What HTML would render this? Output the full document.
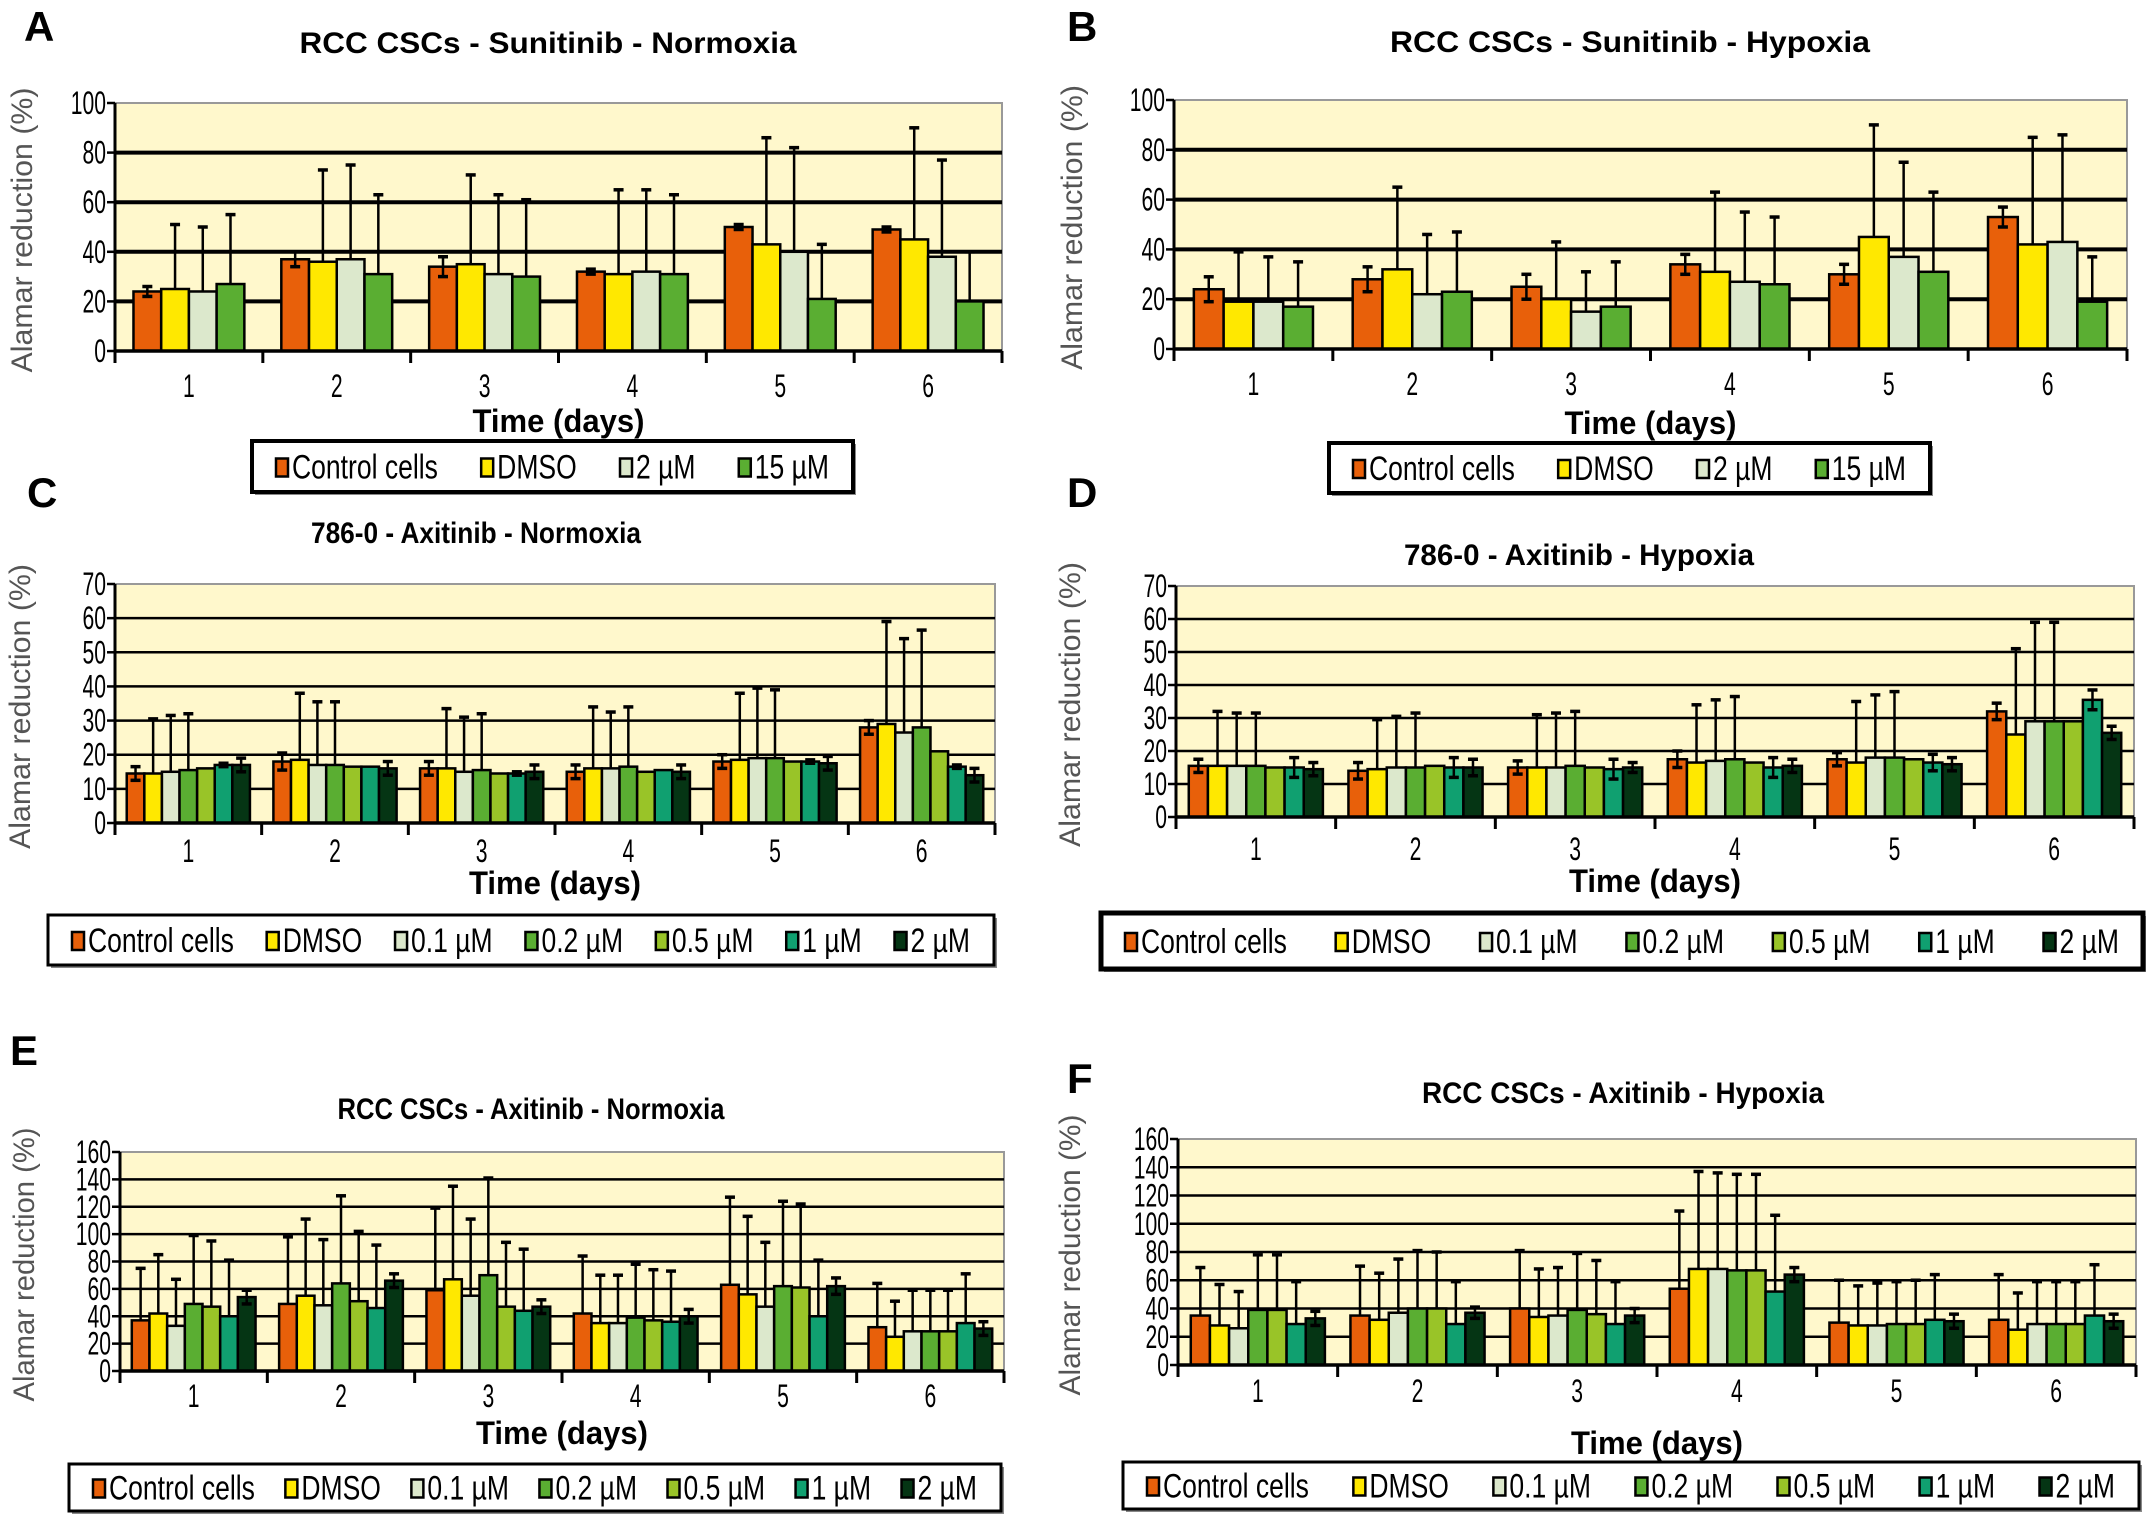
<!DOCTYPE html>
<html><head><meta charset="utf-8"><style>
html,body{margin:0;padding:0;background:#fff;}
svg{display:block;font-family:"Liberation Sans",Arial,sans-serif;}
</style></head><body>
<svg id="fig" width="2150" height="1521" viewBox="0 0 2150 1521" xmlns="http://www.w3.org/2000/svg"></svg>
<script>
const days = ["1","2","3","4","5","6"];
const legend4 = ["Control cells","DMSO","2 µM","15 µM"];
const legend7 = ["Control cells","DMSO","0.1 µM","0.2 µM","0.5 µM","1 µM","2 µM"];
const ticksA = [0,20,40,60,80,100];
const ticksC = [0,10,20,30,40,50,60,70];
const ticksE = [0,20,40,60,80,100,120,140,160];

const aValues = [[24,37,34,32,50,49],[25,36,35,31,43,45],[24,37,31,32,40,38],[27,31,30,31,21,20]];
const aErrors = [[2,3,4,1,1,1],[26,37,36,34,43,45],[26,38,32,33,42,39],[28,32,31,32,22,20]];
const bValues = [[24,28,25,34,30,53],[19,32,20,31,45,42],[19,22,15,27,37,43],[17,23,17,26,31,19]];
const bErrors = [[5,5,5,4,4,4],[20,33,23,32,45,43],[18,24,16,28,38,43],[18,24,18,27,32,18]];
const cValues = [[14.5,18,16,15,18,28],[14.5,18.5,16,16,18.5,29],[15,17,15,16,19,26.5],[15.5,17,15.5,16.5,19,28],[16,16.5,14.5,15,18,21],[17,16.5,14.5,15.5,18,16.5],[17,16,15,15,17.5,14]];
const cErrors = [[2,2.5,2,2,2,2],[16,19.5,17.5,18,19.5,30],[16.5,18.5,16,16.5,20.5,27.5],[16.5,18.5,16.5,17.5,20,28.5],[0,0,0,0,0,0],[0.5,0,0.5,0,0.5,0.5],[2,2,2,2,2,2]];
const dValues = [[15.5,14,15,17.5,17.5,32],[15.5,14.5,15,16.5,16.5,25],[15.5,15,15,17,18,29],[15.5,15,15.5,17.5,18,29],[15,15.5,15,16.5,17.5,29],[15,15,14.5,15,16.5,35.5],[14.5,15,15,15.5,16,25.5]];
const dErrors = [[2,2.5,2,2.5,2,2.5],[16.5,15,16,17.5,18.5,26],[16,15.5,16.5,18.5,19,30],[16,16.5,16.5,19,20,30],[0,0,0,0,0,0],[3,3,3,3,2.5,3],[2,2.5,1.5,2,2,2]];
const eValues = [[37,49,59,42,63,32],[42,55,67,35,56,25],[33,48,55,35,47,29],[49,64,70,39,62,29],[47,51,47,37,61,29],[40,46,44,36,40,35],[54,66,47,40,62,31]];
const eErrors = [[38,49,60,42,64,32],[43,56,68,35,57,26],[34,48,56,35,47,30],[50,64,71,39,62,30],[48,51,47,37,61,30],[41,46,45,37,41,36],[5,5,5,5,6,5]];
const fValues = [[35,35,40,54,30,32],[28,32,34,68,28,25],[26,37,35,68,28,29],[39,40,39,67,29,29],[39,40,36,67,29,29],[29,29,29,52,32,35],[33,37,35,64,31,31]];
const fErrors = [[34,35,41,55,30,32],[29,33,34,69,28,26],[26,38,34,68,30,30],[39,41,40,68,30,30],[39,40,38,68,31,30],[30,30,30,54,32,36],[5,4,5,5,5,5]];

const col4 = ["#E8600A","#FFE800","#DCE8CC","#5AAE32"];
const col7 = ["#E8600A","#FFE800","#DCE8CC","#5AAE32","#99C428","#10A070","#053514"];

const NS = "http://www.w3.org/2000/svg";
const svg = document.getElementById('fig');
function mk(tag, attrs, parent){
  const e = document.createElementNS(NS, tag);
  for (const k in attrs) e.setAttribute(k, attrs[k]);
  (parent||svg).appendChild(e);
  return e;
}
function txt(parent, x, y, s, size, opts){
  opts = opts || {};
  const t = document.createElementNS(NS,'text');
  t.setAttribute('transform', 'translate('+x+','+y+') scale('+(opts.sx||1)+',1)' + (opts.rot?' rotate(-90)':''));
  t.setAttribute('font-size', size);
  t.setAttribute('text-anchor', opts.anchor||'middle');
  t.setAttribute('fill', opts.fill||'#000');
  if (opts.bold) t.setAttribute('font-weight','bold');
  if (opts.len){ t.setAttribute('textLength', opts.len); t.setAttribute('lengthAdjust','spacingAndGlyphs'); }
  t.textContent = s;
  parent.appendChild(t);
  return t;
}

const panels = [
 {id:'a',letter:'A',lx:24,ly:41,title:'RCC CSCs - Sunitinib - Normoxia',tx:548,ty:53,tlen:497,
  L:115,R:1002,T:103,B:351,ticks:ticksA,max:100,vals:aValues,errs:aErrors,cols:col4,names:legend4,gf:0.75,grid:4,
  xly:397,timey:432,ylx:32,lgx:252,lgy:441,lgw:601,lgh:51,lgb:4},
 {id:'b',letter:'B',lx:1067,ly:41,title:'RCC CSCs - Sunitinib  - Hypoxia',tx:1630,ty:52,tlen:480,
  L:1174,R:2127,T:100,B:349,ticks:ticksA,max:100,vals:bValues,errs:bErrors,cols:col4,names:legend4,gf:0.75,grid:4,
  xly:395,timey:434,ylx:1082,lgx:1329,lgy:443,lgw:601,lgh:50,lgb:4},
 {id:'c',letter:'C',lx:27,ly:507,title:'786-0 - Axitinib - Normoxia',tx:476,ty:543,tlen:330,
  L:115,R:995,T:584,B:823,ticks:ticksC,max:70,vals:cValues,errs:cErrors,cols:col7,names:legend7,gf:0.84,grid:2.5,
  xly:862,timey:894,ylx:30,lgx:48,lgy:915,lgw:946,lgh:50,lgb:3},
 {id:'d',letter:'D',lx:1067,ly:507,title:'786-0  - Axitinib - Hypoxia',tx:1579,ty:565,tlen:350,
  L:1176,R:2134,T:586,B:817,ticks:ticksC,max:70,vals:dValues,errs:dErrors,cols:col7,names:legend7,gf:0.84,grid:2.5,
  xly:860,timey:892,ylx:1080,lgx:1101,lgy:913,lgw:1042,lgh:56,lgb:5},
 {id:'e',letter:'E',lx:10,ly:1065,title:'RCC CSCs - Axitinib - Normoxia',tx:531,ty:1119,tlen:387,
  L:120,R:1004,T:1152,B:1371,ticks:ticksE,max:160,vals:eValues,errs:eErrors,cols:col7,names:legend7,gf:0.84,grid:2.5,
  xly:1407,timey:1444,ylx:34,lgx:69,lgy:1464,lgw:932,lgh:47,lgb:3},
 {id:'f',letter:'F',lx:1067,ly:1093,title:'RCC CSCs - Axitinib - Hypoxia',tx:1623,ty:1103,tlen:402,
  L:1178,R:2136,T:1139,B:1365,ticks:ticksE,max:160,vals:fValues,errs:fErrors,cols:col7,names:legend7,gf:0.84,grid:2.5,
  xly:1402,timey:1454,ylx:1080,lgx:1123,lgy:1462,lgw:1016,lgh:47,lgb:3}
];

panels.forEach(p=>{
  const g = mk('g',{});
  
  
  const yS = v => p.B - (v/p.max)*(p.B-p.T);
  const cw = (p.R-p.L)/days.length;
  const xC = i => p.L + cw*(i+0.5);

  const lt = txt(g, p.lx, p.ly, p.letter, 42, {anchor:'start',bold:true});
  
  
  const tt = txt(g, p.tx, p.ty, p.title, 30, {bold:true, len:p.tlen});
  
  

  const bg = mk('rect',{x:p.L,y:p.T,width:p.R-p.L,height:p.B-p.T,fill:'#FFF8CC',stroke:'#999','stroke-width':2},g);
  
  

  p.ticks.forEach(v=>{
    const y = yS(v);
    if (v>0 && v<p.max){
      const gl = mk('line',{x1:p.L,x2:p.R,y1:y,y2:y,stroke:'#000','stroke-width':p.grid},g);
      
      
    }
    mk('line',{x1:p.L-8,x2:p.L,y1:y,y2:y,stroke:'#000','stroke-width':2.5},g);
    const tl = txt(g, p.L-9, y+11, String(v), 32, {anchor:'end', sx:0.66});
    
    
  });

  const n = p.vals.length;
  const gw = cw*p.gf, bw = gw/n;
  p.vals.forEach((ser,s)=>{
    ser.forEach((v,i)=>{
      const x0 = xC(i) - gw/2 + s*bw;
      const r = mk('rect',{x:x0,y:yS(v),width:bw,height:p.B-yS(v),fill:p.cols[s],stroke:'#000','stroke-width':2.5},g);
      
      
    });
  });
  p.errs.forEach((ser,s)=>{
    ser.forEach((e,i)=>{
      if (e<=0) return;
      const v = p.vals[s][i];
      const cx = xC(i) - gw/2 + (s+0.5)*bw;
      const lo = e < 0.1*p.max ? v-e : v;
      const el = mk('line',{x1:cx,x2:cx,y1:yS(lo),y2:yS(v+e),stroke:'#000','stroke-width':2.5},g);
      
      
      mk('line',{x1:cx-5,x2:cx+5,y1:yS(v+e),y2:yS(v+e),stroke:'#000','stroke-width':3.5},g);
      if (lo<v) mk('line',{x1:cx-5,x2:cx+5,y1:yS(lo),y2:yS(lo),stroke:'#000','stroke-width':3.5},g);
    });
  });

  mk('line',{x1:p.L,x2:p.L,y1:p.T,y2:p.B+12,stroke:'#000','stroke-width':3},g);
  const ax = mk('line',{x1:p.L,x2:p.R,y1:p.B,y2:p.B,stroke:'#000','stroke-width':3.5},g);
  
  
  for (let i=0;i<=days.length;i++){
    const x = p.L + cw*i;
    mk('line',{x1:x,x2:x,y1:p.B,y2:p.B+12,stroke:'#000','stroke-width':3},g);
  }
  days.forEach((d,i)=>{
    const xl = txt(g, xC(i), p.xly, d, 32, {sx:0.66});
    
    
  });
  const xt = txt(g, (p.L+p.R)/2, p.timey, 'Time (days)', 32, {bold:true, len:172});
  
  
  const yt = txt(g, p.ylx, (p.T+p.B)/2 + 3, 'Alamar reduction (%)', 30, {rot:true, fill:'#555', len:Math.min(285,(p.B-p.T)+55)});
  
  

  // legend
  const lg = mk('g',{},g);
  
  
  mk('rect',{x:p.lgx+3,y:p.lgy+3,width:p.lgw,height:p.lgh,fill:'#888'},lg);
  mk('rect',{x:p.lgx,y:p.lgy,width:p.lgw,height:p.lgh,fill:'#fff',stroke:'#000','stroke-width':p.lgb},lg);
  const items = [];
  let total = 0;
  const sx = 0.78, sw = 14, gap = 2, pad = 24;
  p.names.forEach((nm,s)=>{
    const ie = mk('g',{},lg);
    
    
    const t = txt(ie, 0, 0, nm, 34, {anchor:'start', sx:sx});
    const w = t.getComputedTextLength()*sx;
    items.push({ie,t,w});
    total += sw + gap + w;
  });
  const spacing = (p.lgw - 2*pad - total)/(p.names.length-1);
  let x = p.lgx + pad;
  const cy = p.lgy + p.lgh/2;
  items.forEach((it,s)=>{
    mk('rect',{x:x,y:cy-8,width:sw-2,height:18,fill:p.cols[s],stroke:'#000','stroke-width':2.5},it.ie);
    it.t.setAttribute('transform','translate('+(x+sw+gap)+','+(cy+12)+') scale('+sx+',1)');
    x += sw + gap + it.w + spacing;
  });
});
</script>
</body></html>
